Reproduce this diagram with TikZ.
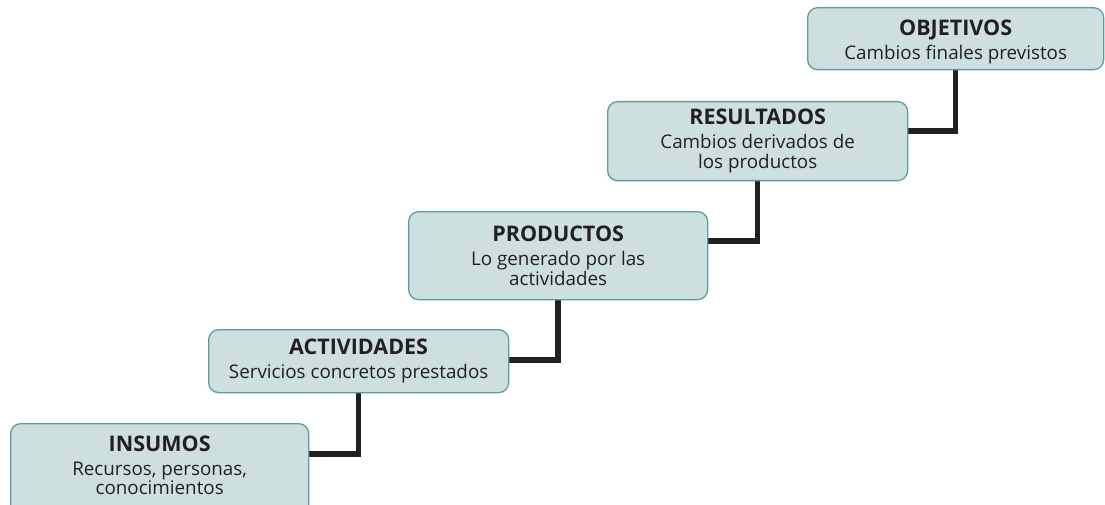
\documentclass[tikz,border=0pt]{standalone}
\usepackage{fontspec}
\setmainfont{Open Sans}
\usetikzlibrary{backgrounds}
\definecolor{boxfill}{HTML}{CDE0DF}
\definecolor{boxline}{HTML}{5E9D9C}
\definecolor{ink}{HTML}{231F20}
\tikzset{
  stagebox/.style={draw=boxline, line width=1.3pt, fill=boxfill, rounded corners=10pt,
    align=center, text=ink, inner sep=0pt, anchor=north west,
    font=\fontsize{18.8}{20}\selectfont},
  conn/.style={draw=ink, line width=5.5pt, line join=miter},
}
\newcommand{\ttl}[1]{{\fontsize{21.5}{24}\selectfont\bfseries #1}\\[4pt]}
\begin{document}
\begin{tikzpicture}[x=1pt,y=1pt]
\useasboundingbox (0,0) rectangle (1105,-505);
\node[stagebox, minimum width=298pt, minimum height=96pt] (ins) at (10,-423)
  {\ttl{INSUMOS}Recursos, personas,\\[-1pt]conocimientos\rule[-12pt]{0pt}{1pt}};
\node[stagebox, minimum width=300pt, minimum height=63pt] (act) at (208,-329)
  {\ttl{ACTIVIDADES}Servicios concretos prestados};
\node[stagebox, minimum width=299pt, minimum height=88pt] (pro) at (408,-211)
  {\ttl{PRODUCTOS}Lo generado por las\\actividades};
\node[stagebox, minimum width=300pt, minimum height=79pt] (res) at (607,-101)
  {\ttl{RESULTADOS}Cambios derivados de\\los productos};
\node[stagebox, minimum width=296pt, minimum height=62pt] (obj) at (807,-7)
  {\ttl{\rule{0pt}{23pt}OBJETIVOS}Cambios finales previstos};
\begin{scope}[on background layer]
\draw[conn] ([yshift=-31pt]ins.north east) -| (act.south);
\draw[conn] ([yshift=-31pt]act.north east) -| (pro.south);
\draw[conn] ([yshift=-30pt]pro.north east) -| (res.south);
\draw[conn] ([yshift=-30pt]res.north east) -| (obj.south);
\end{scope}
\end{tikzpicture}
\end{document}
